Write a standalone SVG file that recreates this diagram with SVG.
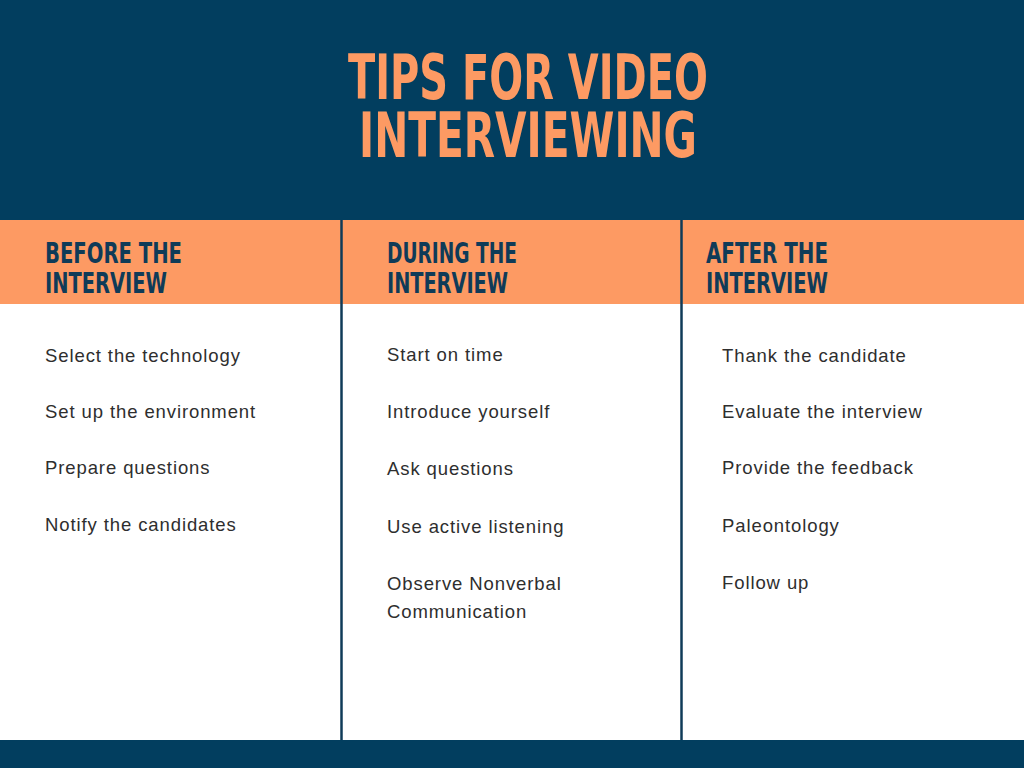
<svg xmlns="http://www.w3.org/2000/svg" width="1024" height="768" viewBox="0 0 1024 768">
<style>
.title{font-family:"DejaVu Sans Condensed","DejaVu Sans",sans-serif;font-weight:bold;font-size:63px;fill:#fd9a63;}
.head{font-family:"DejaVu Sans Condensed","DejaVu Sans",sans-serif;font-weight:bold;font-size:29px;fill:#0f3b58;}
.item{font-family:"Liberation Sans",Arial,sans-serif;font-size:18.5px;fill:#2e2e2e;letter-spacing:0.9px;}
.divider{stroke:#0f3b58;stroke-width:2.5;}
</style>
<rect x="0" y="0" width="1024" height="768" fill="#ffffff"/>
<g id="header-band">
<rect x="0" y="0" width="1024" height="220" fill="#023e5f"/>
<text class="title"><tspan x="348" y="99" textLength="360" lengthAdjust="spacingAndGlyphs">TIPS FOR VIDEO</tspan><tspan x="359" y="157" textLength="338" lengthAdjust="spacingAndGlyphs">INTERVIEWING</tspan></text>
</g>
<rect x="0" y="220" width="1024" height="84" fill="#fd9a63"/>
<rect x="0" y="740" width="1024" height="28" fill="#023e5f"/>
<g id="dividers">
<line class="divider" x1="341.5" y1="220" x2="341.5" y2="740"/>
<line class="divider" x1="681.5" y1="220" x2="681.5" y2="740"/>
</g>
<g id="col-before">
<text class="head"><tspan x="45" y="263" textLength="137" lengthAdjust="spacingAndGlyphs">BEFORE THE</tspan><tspan x="45" y="293" textLength="122" lengthAdjust="spacingAndGlyphs">INTERVIEW</tspan></text>
<text class="item" x="45" y="362">Select the technology</text>
<text class="item" x="45" y="418">Set up the environment</text>
<text class="item" x="45" y="474">Prepare questions</text>
<text class="item" x="45" y="531">Notify the candidates</text>
</g>
<g id="col-during">
<text class="head"><tspan x="387" y="263" textLength="130" lengthAdjust="spacingAndGlyphs">DURING THE</tspan><tspan x="387" y="293" textLength="121" lengthAdjust="spacingAndGlyphs">INTERVIEW</tspan></text>
<text class="item" x="387" y="361">Start on time</text>
<text class="item" x="387" y="418">Introduce yourself</text>
<text class="item" x="387" y="475">Ask questions</text>
<text class="item" x="387" y="533">Use active listening</text>
<text class="item"><tspan x="387" y="590">Observe Nonverbal</tspan><tspan x="387" y="618">Communication</tspan></text>
</g>
<g id="col-after">
<text class="head"><tspan x="706" y="263" textLength="122" lengthAdjust="spacingAndGlyphs">AFTER THE</tspan><tspan x="706" y="293" textLength="122" lengthAdjust="spacingAndGlyphs">INTERVIEW</tspan></text>
<text class="item" x="722" y="362">Thank the candidate</text>
<text class="item" x="722" y="418">Evaluate the interview</text>
<text class="item" x="722" y="474">Provide the feedback</text>
<text class="item" x="722" y="532">Paleontology</text>
<text class="item" x="722" y="589">Follow up</text>
</g>
</svg>
